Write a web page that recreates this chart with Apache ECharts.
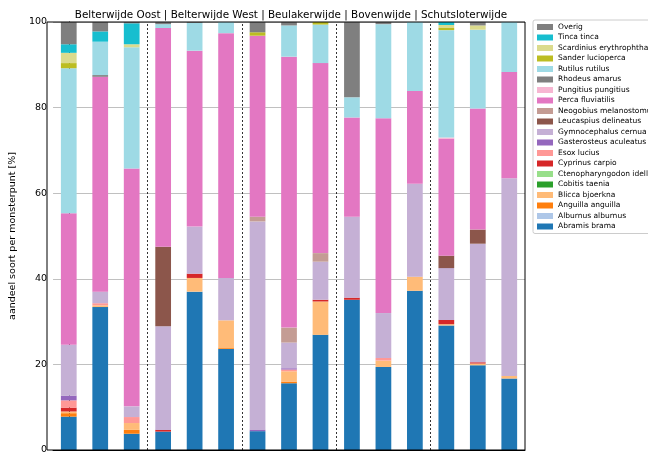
<!DOCTYPE html>
<html><head><meta charset="utf-8">
<script src="https://cdn.jsdelivr.net/npm/echarts@6/dist/echarts.min.js"></script>
<style>html,body{margin:0;padding:0;background:#fff}#c{width:648px;height:457px}</style>
</head><body><div id="c"></div>
<script>
const categories = ['BO1','BO2','BO3','BW1','BW2','BW3','BK1','BK2','BK3','BV1','BV2','BV3','SL1','SL2','SL3'];
const groupSeparators = [2.5, 5.5, 8.5, 11.5];
const yTicks = [0, 20, 40, 60, 80, 100];
const titleText = 'Belterwijde Oost | Belterwijde West | Beulakerwijde | Bovenwijde | Schutsloterwijde';

const abramisBrama      = [7.8, 33.4, 3.8, 4.3, 37.0, 23.6, 4.4, 15.6, 26.9, 35.1, 19.4, 37.2, 29.1, 19.8, 16.7];
const alburnusAlburnus  = [0,0,0,0,0,0,0,0,0,0,0,0,0,0,0];
const anguillaAnguilla  = [0.8, 0, 0.9, 0, 0, 0.2, 0, 0.4, 0, 0, 0, 0, 0, 0, 0];
const bliccaBjoerkna    = [0.4, 0.4, 1.6, 0, 3.2, 6.5, 0, 2.4, 7.8, 0, 1.5, 3.3, 0.3, 0.4, 0.6];
const cobitisTaenia     = [0,0,0,0,0,0,0,0,0,0,0,0,0,0,0];
const ctenopharyngodon  = [0,0,0,0,0,0,0,0,0,0,0,0,0,0,0];
const cyprinusCarpio    = [0.9, 0, 0, 0.4, 1.0, 0, 0, 0, 0.4, 0.5, 0, 0, 1.0, 0.3, 0];
const esoxLucius        = [1.7, 0.5, 1.4, 0, 0, 0, 0, 0.4, 0, 0, 0.6, 0, 0, 0, 0];
const gasterosteus      = [1.1, 0, 0, 0, 0, 0, 0.3, 0.3, 0, 0, 0, 0, 0, 0, 0];
const gymnocephalus     = [11.9, 2.7, 2.5, 24.2, 11.0, 9.9, 48.7, 6.0, 8.9, 18.9, 10.5, 21.7, 12.1, 27.7, 46.2];
const leucaspius        = [0, 0, 0, 18.6, 0, 0, 0, 0, 0, 0, 0, 0, 2.9, 3.3, 0];
const neogobius         = [0, 0, 0, 0, 0, 0, 1.1, 3.5, 2.0, 0, 0, 0, 0, 0, 0];
const percaFluviatilis  = [30.7, 50.2, 55.6, 51.1, 41.1, 57.2, 42.3, 63.3, 44.4, 23.2, 45.5, 21.7, 27.3, 28.3, 24.8];
const pungitius         = [0, 0, 0, 0, 0, 0, 0, 0, 0, 0, 0, 0, 0.3, 0, 0];
const rhodeusAmarus     = [0, 0.4, 0, 0, 0, 0, 0, 0, 0, 0, 0, 0, 0, 0, 0];
const rutilusRutilus    = [33.9, 7.8, 28.3, 0.9, 6.5, 2.6, 0, 7.3, 9.0, 4.7, 22.0, 16.1, 25.1, 18.4, 11.7];
const sanderLucioperca  = [1.2, 0, 0, 0, 0, 0, 0.8, 0, 0.6, 0, 0, 0, 0.5, 0, 0];
const scardinius        = [2.4, 0, 0.7, 0, 0, 0, 0, 0, 0, 0, 0, 0, 0.7, 1.0, 0];
const tincaTinca        = [2.0, 2.4, 4.9, 0, 0, 0, 0, 0, 0, 0, 0, 0, 0.7, 0, 0];
const overig            = [5.2, 2.2, 0.3, 0.5, 0.2, 0, 2.4, 0.8, 0, 17.6, 0.5, 0, 0, 0.8, 0];

const speciesNames = ['Abramis brama','Alburnus alburnus','Anguilla anguilla','Blicca bjoerkna','Cobitis taenia',
  'Ctenopharyngodon idella','Cyprinus carpio','Esox lucius','Gasterosteus aculeatus','Gymnocephalus cernua',
  'Leucaspius delineatus','Neogobius melanostomus','Perca fluviatilis','Pungitius pungitius','Rhodeus amarus',
  'Rutilus rutilus','Sander lucioperca','Scardinius erythrophthalmus','Tinca tinca','Overig'];
const speciesData = [abramisBrama, alburnusAlburnus, anguillaAnguilla, bliccaBjoerkna, cobitisTaenia,
  ctenopharyngodon, cyprinusCarpio, esoxLucius, gasterosteus, gymnocephalus, leucaspius, neogobius,
  percaFluviatilis, pungitius, rhodeusAmarus, rutilusRutilus, sanderLucioperca, scardinius, tincaTinca, overig];
const speciesColors = ['#1f77b4','#aec7e8','#ff7f0e','#ffbb78','#2ca02c','#98df8a','#d62728','#ff9896',
  '#9467bd','#c5b0d5','#8c564b','#c49c94','#e377c2','#f7b6d2','#7f7f7f','#9edae5','#bcbd22','#dbdb8d',
  '#17becf','#7f7f7f'];

const font = 'DejaVu Sans';
const series = speciesNames.map((n, i) => ({
  name: n, type: 'bar', stack: 'total', barWidth: '50%',
  xAxisIndex: 0, yAxisIndex: 0,
  itemStyle: { color: speciesColors[i] },
  data: speciesData[i], animation: false
}));
series.push({
  name: '__sep', type: 'line', xAxisIndex: 1, yAxisIndex: 0, data: [], silent: true,
  markLine: {
    symbol: 'none', silent: true, animation: false, label: { show: false },
    lineStyle: { color: '#000', type: [2, 2], width: 0.8 },
    data: groupSeparators.map(v => ({ xAxis: v }))
  }
});

const chart = echarts.init(document.getElementById('c'), null, { renderer: 'canvas' });
chart.setOption({
  animation: false,
  backgroundColor: '#fff',
  title: { text: titleText, left: 286, top: 5, textAlign: 'center',
    textStyle: { fontFamily: font, fontSize: 10.4, fontWeight: 'normal', color: '#000' } },
  legend: {
    data: speciesNames.slice().reverse(), orient: 'vertical', left: 533, top: 20,
    icon: 'rect', itemWidth: 16, itemHeight: 6, itemGap: 2.5,
    padding: [3, 4, 3, 4], borderColor: '#cccccc', borderWidth: 1, borderRadius: 2,
    backgroundColor: '#fff',
    textStyle: { fontFamily: font, fontSize: 7.5, color: '#000', lineHeight: 8 },
    selectedMode: false
  },
  grid: { left: 47, right: 123, top: 22, bottom: 7, containLabel: false },
  xAxis: [
    { type: 'category', data: categories, axisLabel: { show: false },
      axisTick: { alignWithLabel: true, length: 3, lineStyle: { color: '#000' } },
      axisLine: { lineStyle: { color: '#000', width: 1 } }, splitLine: { show: false } },
    { type: 'value', min: -0.5, max: 14.5, show: false }
  ],
  yAxis: [{
    type: 'value', min: yTicks[0], max: yTicks[yTicks.length - 1], interval: 20,
    name: 'aandeel soort per monsterpunt [%]', nameLocation: 'middle', nameGap: 29,
    nameTextStyle: { fontFamily: font, fontSize: 9.5, color: '#000' },
    axisLabel: { fontFamily: font, fontSize: 9.5, color: '#000', margin: 6 },
    axisTick: { show: true, length: 3, lineStyle: { color: '#000' } },
    axisLine: { show: true, lineStyle: { color: '#000', width: 1 } },
    splitLine: { show: true, lineStyle: { color: '#b0b0b0', width: 0.8 } }
  }],
  graphic: [{ type: 'rect', shape: { x: 47, y: 22, width: 478, height: 428 },
    style: { fill: 'none', stroke: '#000', lineWidth: 1 }, silent: true, z: 100 }],
  series: series
});
</script></body></html>
